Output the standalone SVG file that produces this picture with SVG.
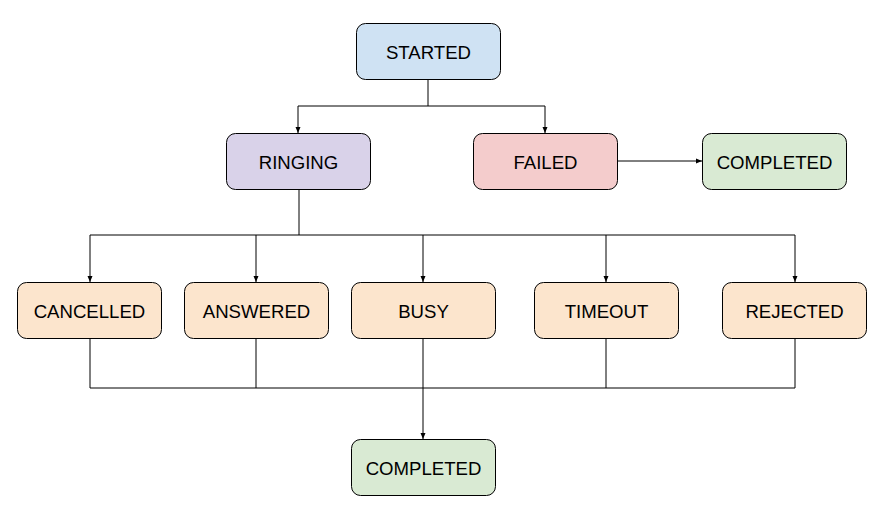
<svg xmlns="http://www.w3.org/2000/svg" width="880" height="515" viewBox="0 0 880 515">
<style>
.n{stroke:#000;stroke-width:1}
.t{font-family:"Liberation Sans",Arial,sans-serif;font-size:18.6px;fill:#000;text-anchor:middle;dominant-baseline:central}
.c{fill:none;stroke:#000;stroke-width:1}
.blue{fill:#cfe2f3}.purple{fill:#d9d2e9}.red{fill:#f4cccc}.green{fill:#d9ead3}.orange{fill:#fce5cd}
</style>
<defs>
<marker id="ah" markerWidth="6" markerHeight="6" refX="6" refY="3" orient="auto" markerUnits="userSpaceOnUse">
<path d="M0,0.5 L6,3 L0,5.5 Z" fill="#000"/>
</marker>
</defs>
<rect width="880" height="515" fill="#fff"/>
<g id="connectors">
<path class="c" d="M428,79 V106"/>
<path class="c" d="M298,106 H545"/>
<path class="c" d="M298,106 V133" marker-end="url(#ah)"/>
<path class="c" d="M545,106 V133" marker-end="url(#ah)"/>
<path class="c" d="M617,161 H702" marker-end="url(#ah)"/>
<path class="c" d="M299,189 V235"/>
<path class="c" d="M90,235 H795"/>
<path class="c" d="M90,235 V282" marker-end="url(#ah)"/>
<path class="c" d="M256,235 V282" marker-end="url(#ah)"/>
<path class="c" d="M423,235 V282" marker-end="url(#ah)"/>
<path class="c" d="M606,235 V282" marker-end="url(#ah)"/>
<path class="c" d="M795,235 V282" marker-end="url(#ah)"/>
<path class="c" d="M90,338 V388 H795 V338"/>
<path class="c" d="M256,338 V388"/>
<path class="c" d="M606,338 V388"/>
<path class="c" d="M423,338 V439" marker-end="url(#ah)"/>
</g>
<g id="started"><rect class="n blue" x="356.5" y="23.5" width="144" height="56" rx="9"/><text class="t" x="428.5" y="52">STARTED</text></g>
<g id="ringing"><rect class="n purple" x="226.5" y="133.5" width="144" height="56" rx="9"/><text class="t" x="298.5" y="162">RINGING</text></g>
<g id="failed"><rect class="n red" x="473.5" y="133.5" width="144" height="56" rx="9"/><text class="t" x="545.5" y="162">FAILED</text></g>
<g id="completed1"><rect class="n green" x="702.5" y="133.5" width="144" height="56" rx="9"/><text class="t" x="774.5" y="162">COMPLETED</text></g>
<g id="cancelled"><rect class="n orange" x="17.5" y="282.5" width="144" height="56" rx="9"/><text class="t" x="89.5" y="311">CANCELLED</text></g>
<g id="answered"><rect class="n orange" x="184.5" y="282.5" width="144" height="56" rx="9"/><text class="t" x="256.5" y="311">ANSWERED</text></g>
<g id="busy"><rect class="n orange" x="351.5" y="282.5" width="144" height="56" rx="9"/><text class="t" x="423.5" y="311">BUSY</text></g>
<g id="timeout"><rect class="n orange" x="534.5" y="282.5" width="144" height="56" rx="9"/><text class="t" x="606.5" y="311">TIMEOUT</text></g>
<g id="rejected"><rect class="n orange" x="722.5" y="282.5" width="144" height="56" rx="9"/><text class="t" x="794.5" y="311">REJECTED</text></g>
<g id="completed2"><rect class="n green" x="351.5" y="439.5" width="144" height="56" rx="9"/><text class="t" x="423.5" y="468">COMPLETED</text></g>
</svg>
